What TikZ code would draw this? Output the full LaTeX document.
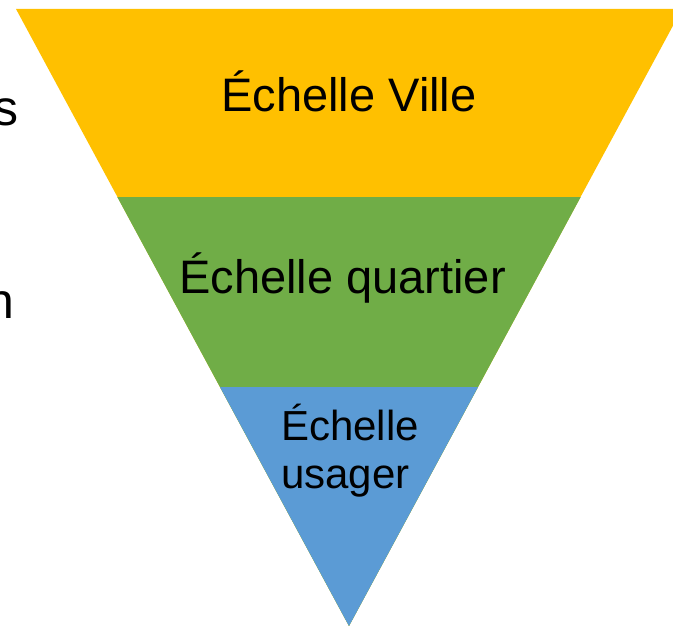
\documentclass[tikz,border=0pt]{standalone}
\usepackage{fontspec}
\setmainfont{Liberation Sans}
\definecolor{cyellow}{HTML}{FFC000}
\definecolor{cgreen}{HTML}{70AD47}
\definecolor{cblue}{HTML}{5B9BD5}
\begin{document}
\begin{tikzpicture}[x=1pt,y=-1pt,
  lbl/.style={inner sep=0pt,anchor=base,text=black},
  big/.style={font=\fontsize{47}{56}\selectfont},
  mid/.style={font=\fontsize{42}{48}\selectfont},
  side/.style={font=\fontsize{50}{60}\selectfont,inner sep=0pt,anchor=base east}]
\useasboundingbox (0,0) rectangle (673,626);
\clip (0,0) rectangle (673,626);
% layers of the inverted pyramid
\fill[cyellow] (16,9) -- (682,9) -- (349,626) -- cycle;
\fill[cgreen] (117.3,197) -- (580.7,197) -- (349,626) -- cycle;
\fill[cblue] (220,387) -- (478,387) -- (349,626) -- cycle;
% labels
\node[lbl,big] (ville) at (349,112) {Échelle Ville};
\node[lbl,big] (quartier) at (342.5,293) {Échelle quartier};
\node[lbl,mid] (usager1) at (350,440) {Échelle};
\node[lbl,mid] (usager2) at (345.5,488) {usager};
% cropped text at left border
\node[side] (s) at (19,126) {s};
\node[side] (n) at (15,318) {n};
\end{tikzpicture}
\end{document}
